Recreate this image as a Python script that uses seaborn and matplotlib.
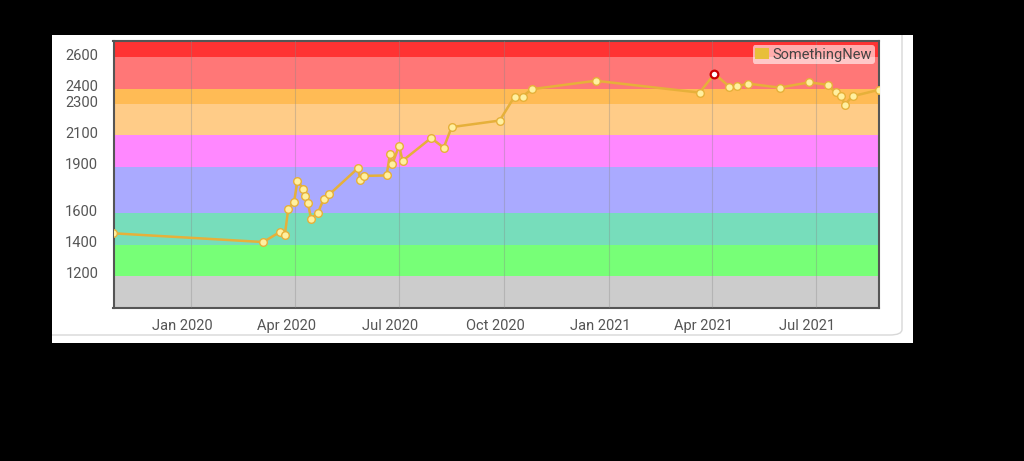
import pandas as pd
import matplotlib
matplotlib.use('Agg')
import matplotlib.pyplot as plt
import matplotlib.dates as mdates
import matplotlib.transforms as mtransforms
from matplotlib.patches import Patch, FancyBboxPatch
import seaborn as sns

# Rating history
dates = ['2019-10-25', '2020-03-04', '2020-03-19', '2020-03-23', '2020-03-26',
         '2020-03-31', '2020-04-03', '2020-04-08', '2020-04-10', '2020-04-12',
         '2020-04-15', '2020-04-21', '2020-04-26', '2020-05-01', '2020-05-26',
         '2020-05-28', '2020-05-31', '2020-06-20', '2020-06-23', '2020-06-25',
         '2020-07-01', '2020-07-04', '2020-07-29', '2020-08-09', '2020-08-16',
         '2020-09-27', '2020-10-10', '2020-10-17', '2020-10-25', '2020-12-20',
         '2021-03-21', '2021-04-03', '2021-04-16', '2021-04-23', '2021-05-02',
         '2021-05-30', '2021-06-25', '2021-07-11', '2021-07-18', '2021-07-23',
         '2021-07-26', '2021-08-02', '2021-08-25']
ratings = [1472, 1416, 1482, 1464, 1631, 1672, 1807, 1759, 1710, 1669,
           1565, 1605, 1692, 1722, 1890, 1812, 1840, 1843, 1980, 1917,
           2033, 1937, 2083, 2021, 2153, 2195, 2349, 2349, 2396, 2450,
           2374, 2495, 2412, 2414, 2432, 2406, 2440, 2424, 2376, 2351,
           2297, 2351, 2392]

# Rank bands
band_edges = [995, 1200, 1400, 1600, 1900, 2100, 2300, 2400, 2600, 2705]
band_colors = ['#cccccc', '#77ff77', '#77ddbb', '#aaaaff', '#ff88ff',
               '#ffcc88', '#ffbb55', '#ff7777', '#ff3333']
y_ticks = [1200, 1400, 1600, 1900, 2100, 2300, 2400, 2600]

df = pd.DataFrame({'date': pd.to_datetime(dates), 'rating': ratings})

plt.rcParams['font.family'] = ['Roboto', 'DejaVu Sans']

fig = plt.figure(figsize=(10.24, 4.61), dpi=100, facecolor='black')

# white card behind the chart
card = plt.Rectangle((52 / 1024, 118 / 461), 861 / 1024, 308 / 461,
                     transform=fig.transFigure, facecolor='white',
                     edgecolor='none', zorder=-2)
fig.patches.append(card)
border = FancyBboxPatch((30 / 1024, 126 / 461), 872 / 1024, 340 / 461,
                        boxstyle='round,pad=0,rounding_size=0.012',
                        transform=fig.transFigure, facecolor='none',
                        edgecolor='#d8d8d8', linewidth=1, zorder=-1)
border.set_clip_path(card)
fig.patches.append(border)

ax = fig.add_axes([113.5 / 1024, 153.3 / 461, 765.5 / 1024, 266.7 / 461])

for lo, hi, c in zip(band_edges[:-1], band_edges[1:], band_colors):
    ax.axhspan(lo, hi, color=c, zorder=0, linewidth=0)

sns.lineplot(data=df, x='date', y='rating', ax=ax, color='#e6b03a', linewidth=1.8,
             marker='o', markersize=5.5, markerfacecolor='#fff0a0',
             markeredgecolor='#e6b03a', markeredgewidth=1, zorder=3)

best = df.loc[df['rating'].idxmax()]
ax.plot(best['date'], best['rating'], marker='o', markersize=5.5,
        markerfacecolor='white', markeredgecolor='#cc0000', markeredgewidth=1.6,
        zorder=4)

ax.set_ylim(band_edges[0], band_edges[-1])
ax.set_xlim(df['date'].min(), df['date'].max())
ax.set_yticks(y_ticks)
ax.xaxis.set_major_locator(mdates.MonthLocator(bymonth=[1, 4, 7, 10]))
ax.xaxis.set_major_formatter(mdates.DateFormatter('%b %Y'))
ax.tick_params(length=0, labelsize=10.5, labelcolor='#555555')
ax.tick_params(axis='y', pad=11)
ax.tick_params(axis='x', pad=8)
yshift = mtransforms.ScaledTranslation(0, 3 / 100, fig.dpi_scale_trans)
for lbl in ax.get_yticklabels():
    lbl.set_transform(lbl.get_transform() + yshift)
xshift = mtransforms.ScaledTranslation(-9 / 100, 0, fig.dpi_scale_trans)
for lbl in ax.get_xticklabels():
    lbl.set_transform(lbl.get_transform() + xshift)

ax.grid(axis='x', color='#888888', alpha=0.35, linewidth=0.8)
ax.grid(axis='y', visible=False)
ax.set_axisbelow(False)
ax.set_xlabel('')
ax.set_ylabel('')
for s in ax.spines.values():
    s.set_color('#555555')
    s.set_linewidth(1.5)

ax.legend(handles=[Patch(facecolor='#e8bf3a', label='SomethingNew')],
          loc='upper right', fontsize=10.5, frameon=True, framealpha=0.6,
          edgecolor='none', borderpad=0.15, handlelength=1.0, handleheight=0.8,
          handletextpad=0.25, borderaxespad=0.3, labelcolor='#444444')

fig.savefig('out.png', dpi=100, facecolor='black')
